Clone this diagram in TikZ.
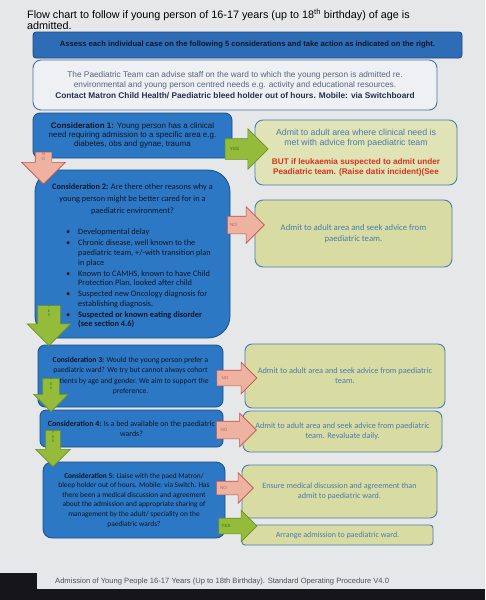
\documentclass[tikz,border=0pt]{standalone}
\usepackage{fontspec}
\setmainfont{Liberation Sans}
\newfontfamily\calib{Carlito}
\usetikzlibrary{shapes.arrows}
\definecolor{bg}{HTML}{E6E7E9}
\definecolor{cbF}{HTML}{2C78C4}
\definecolor{cbD}{HTML}{1B4C86}
\definecolor{cbT}{HTML}{0E1628}
\definecolor{hdF}{HTML}{2E6DB5}
\definecolor{infF}{HTML}{EEF0F3}
\definecolor{infD}{HTML}{4A6FA0}
\definecolor{infT}{HTML}{56657E}
\definecolor{infB}{HTML}{26324A}
\definecolor{rbF}{HTML}{D8DCA2}
\definecolor{rbD}{HTML}{4A7DB0}
\definecolor{rbT}{HTML}{4A7CAE}
\definecolor{redT}{HTML}{D8341E}
\definecolor{noF}{HTML}{EEB2A0}
\definecolor{noD}{HTML}{C0504D}
\definecolor{noT}{HTML}{D05A50}
\definecolor{yesF}{HTML}{94BC3A}
\definecolor{yesD}{HTML}{6B8F2A}
\definecolor{yesT}{HTML}{4E8A1E}
\definecolor{taskbar}{HTML}{16161A}
\definecolor{footT}{HTML}{505050}
\newcommand\myfs[2]{\fontsize{#1}{#2}\selectfont}
\tikzset{
  cbox/.style={draw=cbD, fill=cbF, line width=0.8pt, rounded corners=7pt, inner sep=2pt, align=center, text=cbT},
  rbox/.style={draw=rbD, fill=rbF, line width=0.9pt, rounded corners=7pt, inner sep=2pt, align=center, text=rbT},
  blkarrow/.style={single arrow, text height=0pt, text depth=0pt, text width=0pt, inner xsep=0pt, minimum width=0pt, line width=0.6pt},
  noarr/.style={blkarrow, draw=noD, fill=noF},
  yesarr/.style={blkarrow, draw=yesD, fill=yesF},
  nolab/.style={text=noT, font=\myfs{4.5}{4.8}, inner sep=0pt, align=center},
  yeslab/.style={text=yesT, font=\bfseries\myfs{4.5}{4.8}, inner sep=0pt, align=center},
}
\begin{document}
\begin{tikzpicture}[x=1pt,y=-1pt]
\useasboundingbox (0,0) rectangle (485,600);
\fill[bg] (0,0) rectangle (485,600);

% title
\node[anchor=north west, align=left, font=\myfs{10.8}{11.5}, text=black, inner sep=0pt] (title) at (27,8.5)
  {Flow chart to follow if young person of 16-17 years (up to 18\textsuperscript{th} birthday) of age is\\admitted.};

% header bar
\node[draw=cbD, fill=hdF, line width=0.8pt, rounded corners=3pt, minimum width=429pt, minimum height=26pt, font=\bfseries\myfs{7.6}{8.5}, text=cbT] (hdr) at (247.5,45)
  {Assess each individual case on the following 5 considerations and take action as indicated on the right.};

% info box
\node[draw=infD, fill=infF, line width=0.9pt, rounded corners=8pt, minimum width=404pt, minimum height=50pt, align=center, font=\myfs{8.3}{10.2}, text=infT] (info) at (235,85)
  {The Paediatric Team can advise staff on the ward to which the young person is admitted re.\\
   environmental and young person centred needs e.g. activity and educational resources.\\
   \textcolor{infB}{\bfseries Contact Matron Child Health/ Paediatric bleed holder out of hours. Mobile: via Switchboard}};

% consideration boxes
\node[cbox, minimum width=199pt, minimum height=45pt, font=\myfs{8}{9.2}] (c1) at (132.5,135.5)
  {\textbf{Consideration 1:} Young person has a clinical\\need requiring admission to a specific area e.g.\\diabetes, obs and gynae, trauma};

\node[cbox, rounded corners=22pt, minimum width=195pt, minimum height=168pt] (c2) at (132.5,254) {};
\node[text=cbT, align=center, font=\calib\myfs{8.3}{11.8}, inner sep=0pt] (c2t) at (132.5,199)
  {\textbf{Consideration 2:} Are there other reasons why a\\young person might be better cared for in a\\paediatric environment?};
\node[text=cbT, anchor=north west, font=\calib\myfs{8.3}{9.6}, inner sep=0pt] (c2l) at (66,228)
  {\begin{tabular}{@{}p{12pt}@{}l@{}}
   \textbullet & Developmental delay\\[1.4pt]
   \textbullet & Chronic disease, well known to the\\
               & paediatric team, +/-with transition plan\\
               & in place\\[1.4pt]
   \textbullet & Known to CAMHS, known to have Child\\
               & Protection Plan, looked after child\\[1.4pt]
   \textbullet & Suspected new Oncology diagnosis for\\
               & establishing diagnosis.\\[1.4pt]
   \textbullet & \textbf{Suspected or known eating disorder}\\
               & \textbf{(see section 4.6)}
   \end{tabular}};

\node[cbox, minimum width=185pt, minimum height=62pt, font=\calib\myfs{7.6}{10.5}] (c3) at (130.5,376)
  {\textbf{Consideration 3:} Would the young person prefer a\\paediatric ward? We try but cannot always cohort\\patients by age and gender. We aim to support the\\preference.};

\node[cbox, rounded corners=6pt, minimum width=183pt, minimum height=37pt, font=\calib\myfs{7.9}{10}] (c4) at (131.5,428.5)
  {\textbf{Consideration 4:} Is a bed available on the paediatric\\wards?};

\node[cbox, rounded corners=9pt, minimum width=182pt, minimum height=76pt, font=\calib\myfs{7.4}{9.6}] (c5) at (134,500)
  {\textbf{Consideration 5:} Liaise with the paed Matron/\\bleep holder out of hours. Mobile: via Switch. Has\\there been a medical discussion and agreement\\about the admission and appropriate sharing of\\management by the adult/ speciality on the\\paediatric wards?};

% result boxes
\node[rbox, fill=rbF!80!white, rounded corners=8pt, minimum width=202pt, minimum height=65pt, font=\myfs{8.8}{9.6}] (r1) at (356,152.5)
  {Admit to adult area where clinical need is\\met with advice from paediatric team\\[10pt]
   \textcolor{redT}{\bfseries\myfs{8.2}{10}BUT if leukaemia suspected to admit under}\\
   \textcolor{redT}{\bfseries\myfs{8.2}{10}Peadiatric team. (Raise datix incident)(See}};

\node[rbox, rounded corners=8pt, minimum width=197pt, minimum height=67pt, font=\calib\myfs{8.7}{11}] (r2) at (353.5,233.5)
  {Admit to adult area and seek advice from\\paediatric team.};

\node[rbox, minimum width=200pt, minimum height=64pt, font=\calib\myfs{8.3}{10}] (r3) at (345,376)
  {Admit to adult area and seek advice from paediatric\\team.};

\node[rbox, minimum width=199pt, minimum height=41pt, font=\calib\myfs{8.3}{10.5}] (r4) at (342.5,431.5)
  {Admit to adult area and seek advice from paediatric\\team. Revaluate daily.};

\node[rbox, minimum width=195pt, minimum height=53pt, font=\calib\myfs{8.1}{10}] (r5) at (339.5,491.5)
  {Ensure medical discussion and agreement than\\admit to paediatric ward.};

\node[rbox, rounded corners=3pt, minimum width=191pt, minimum height=20pt, font=\calib\myfs{8}{9}] (r6) at (337.5,535)
  {Arrange admission to paediatric ward.};

% block arrows
\node[yesarr, minimum height=43pt, inner ysep=10pt, single arrow head extend=10pt] (yes1) at (241.5,149) {};
\node[yeslab, xshift=-7pt] (yes1l) at (yes1.center) {YES};

\node[noarr, rotate=-90, minimum height=32pt, inner ysep=8pt, single arrow head extend=13.5pt] (no1) at (43.5,164) {};
\node[nolab] (no1l) at (43.5,156.5) {N\\O};

\node[noarr, minimum height=37pt, inner ysep=8.5pt, single arrow head extend=9.5pt] (no2) at (241.5,225) {};
\node[nolab, xshift=-8pt] (no2l) at (no2.center) {NO};

\node[yesarr, rotate=-90, minimum height=40pt, inner ysep=11pt, single arrow head extend=10.5pt] (yes2) at (49,320) {};
\node[yeslab, font=\bfseries\myfs{3.6}{4.4}] (yes2l) at (49,311) {Y\\E\\S};

\node[noarr, minimum height=40pt, inner ysep=7.5pt, single arrow head extend=8pt] (no3) at (233,378) {};
\node[nolab, xshift=-8pt] (no3l) at (no3.center) {NO};

\node[yesarr, rotate=-90, minimum height=33pt, inner ysep=8pt, single arrow head extend=9pt] (yes3) at (51,391) {};
\node[yeslab, font=\bfseries\myfs{3.6}{4.4}] (yes3l) at (51,384) {Y\\E\\S};

\node[noarr, minimum height=40pt, inner ysep=8.5pt, single arrow head extend=8pt] (no4) at (232,430) {};
\node[nolab, xshift=-8pt] (no4l) at (no4.center) {NO};

\node[yesarr, rotate=-90, minimum height=36pt, inner ysep=7pt, single arrow head extend=10pt] (yes4) at (53,445) {};
\node[yeslab, font=\bfseries\myfs{3.6}{4.4}] (yes4l) at (53,437) {Y\\E\\S};

\node[noarr, minimum height=37pt, inner ysep=6.5pt, single arrow head extend=8.5pt] (no5) at (231.5,488) {};
\node[nolab, xshift=-8pt] (no5l) at (no5.center) {NO};

\node[yesarr, minimum height=38pt, inner ysep=7.5pt, single arrow head extend=8pt] (yes5) at (234,526) {};
\node[yeslab, xshift=-8pt] (yes5l) at (yes5.center) {YES};

% footer and screen strip
\fill[taskbar] (0,589) rectangle (485,600);
\fill[taskbar] (0,573) rectangle (37,600);
\node[anchor=west, font=\myfs{7.6}{8}, text=footT, inner sep=0pt] (foot) at (55,582)
  {Admission of Young People 16-17 Years (Up to 18th Birthday). Standard Operating Procedure V4.0};
\end{tikzpicture}
\end{document}
